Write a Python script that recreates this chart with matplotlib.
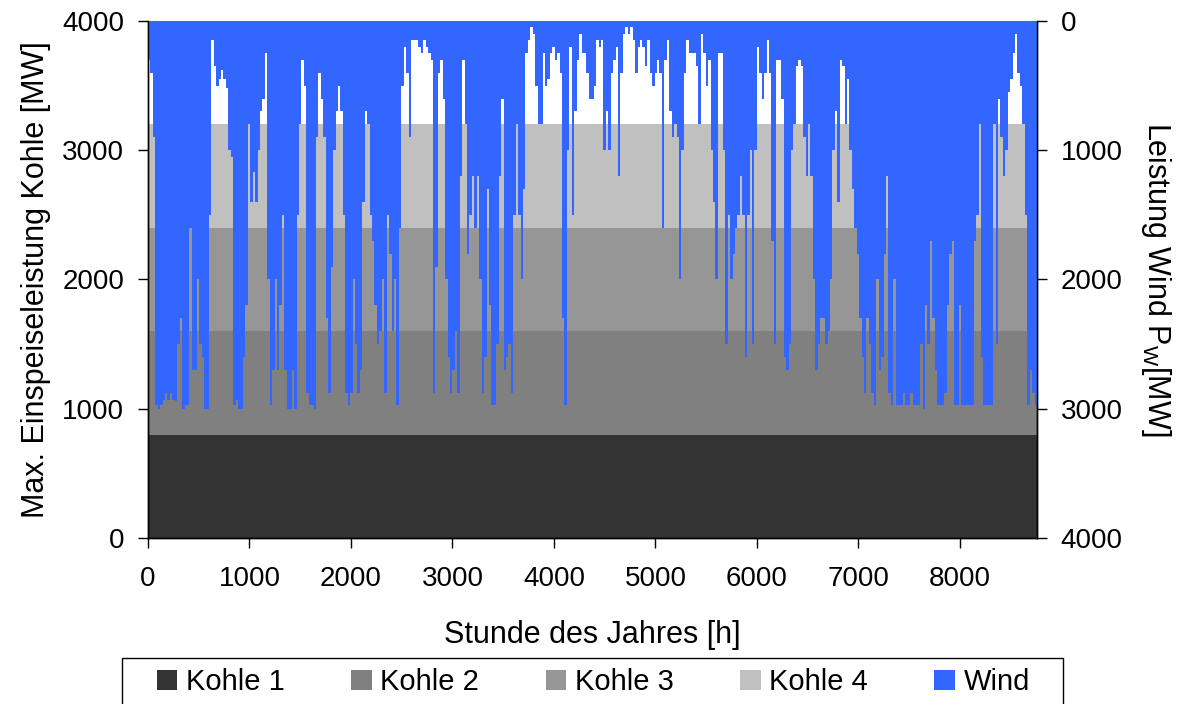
"""Kohle-Einspeisung und Windleistung ueber ein Jahr."""
import numpy as np
import matplotlib
matplotlib.use('Agg')
import matplotlib.pyplot as plt
from matplotlib.patches import Rectangle

plt.rcParams['font.family'] = ['Liberation Sans', 'DejaVu Sans']
plt.rcParams['mathtext.fontset'] = 'custom'
plt.rcParams['mathtext.rm'] = 'Liberation Sans'
plt.rcParams['mathtext.it'] = 'Liberation Sans'

# Kohle blocks, each 800 MW, stacked
kohle_labels = ['Kohle 1', 'Kohle 2', 'Kohle 3', 'Kohle 4']
kohle_mw = [800, 800, 800, 800]
kohle_colors = ['#333333', '#808080', '#969696', '#c0c0c0']
wind_color = '#3366ff'

# Wind power, one value per day (MW)
wind_mw = [
    # days 0-60
    300, 400, 900, 2970, 3000, 2970, 2930, 2880, 2930, 2880,
    2930, 2940, 2500, 2300, 3000, 2970, 2970, 1600, 2700, 2700,
    2000, 2500, 2600, 3000, 3000, 1500, 150, 350, 500, 450,
    380, 450, 520, 1000, 1050, 2970, 2930, 3000, 3000, 2600,
    2200, 800, 1400, 1170, 1400, 1000, 700, 600, 250, 2000,
    2970, 2700, 2000, 2700, 2200, 1500, 2700, 3000, 3000, 2700,
    3000,
    # days 61-123
    1500, 800, 300, 500, 2880, 2970, 2970, 3000, 900, 400,
    600, 900, 2300, 2880, 1900, 1000, 700, 500, 700, 1500,
    2880, 2970, 2880, 2000, 2500, 2880, 2700, 1400, 700, 800,
    1500, 1700, 2200, 2500, 2400, 2000, 2880, 1500, 1800, 2400,
    2000, 2970, 1600, 500, 200, 400, 900, 150, 150, 150,
    200, 250, 150, 200, 250, 300, 2880, 1900, 400, 300,
    600, 2000, 2600,
    # days 124-187
    2880, 2700, 2400, 2880, 1200, 300, 800, 1800, 1500, 1200,
    1600, 1200, 2000, 2880, 2600, 1300, 2200, 2970, 2970, 2500,
    1200, 600, 2700, 2600, 2500, 2880, 1500, 800, 1500, 2000,
    1300, 250, 150, 50, 100, 500, 800, 800, 250, 500,
    450, 250, 200, 300, 250, 400, 2300, 2970, 1000, 200,
    1500, 700, 300, 100, 250, 250, 400, 600, 600, 500,
    150, 200, 150, 1000,
    # days 188-251
    700, 1000, 400, 300, 200, 1200, 400, 100, 50, 100,
    50, 150, 400, 200, 150, 200, 350, 150, 400, 500,
    400, 300, 400, 1600, 300, 150, 700, 900, 800, 900,
    2000, 1000, 400, 150, 250, 250, 250, 350, 800, 100,
    250, 500, 300, 1000, 1400, 2000, 250, 250, 1000, 2500,
    1500, 2000, 1800, 1600, 1500, 1200, 1500, 2600, 1500, 1000,
    2500, 1000, 200, 400,
    # days 252-308
    600, 400, 150, 400, 1700, 2500, 300, 300, 600, 2600,
    2700, 2500, 1000, 800, 350, 300, 350, 900, 1200, 800,
    1200, 2000, 2700, 2500, 2300, 2300, 2500, 2400, 2000, 1000,
    700, 1400, 300, 350, 800, 450, 1000, 1300, 1600, 1800,
    2300, 2600, 2880, 2300, 2500, 2880, 2970, 2000, 2700, 2600,
    1800, 1200, 2880, 2970, 2000, 2970, 2970,
    # days 309-364
    2970, 2880, 2970, 2970, 2880, 2970, 2970, 2970, 2500, 3000,
    2200, 2500, 1700, 2300, 2700, 2970, 2970, 2970, 2880, 2200,
    1800, 1700, 2970, 2970, 2200, 2970, 2970, 2970, 2970, 2970,
    1700, 1500, 800, 2600, 2970, 2970, 2970, 2970, 800, 2500,
    600, 900, 1200, 1000, 550, 450, 250, 100, 400, 500,
    800, 1500, 2970, 2700, 2880, 2970,
]

hour_edges = np.arange(0, 8761, 24)
x_ticks = list(range(0, 9000, 1000))
y_ticks = list(range(0, 4001, 1000))

fig = plt.figure(figsize=(11.8, 7.04), dpi=100)
ax = fig.add_axes([0.1254, 0.2358, 0.7534, 0.7344])

# Kohle bands (left axis)
ax.stackplot([0, 8760], [[v, v] for v in kohle_mw],
             colors=kohle_colors, labels=kohle_labels, linewidth=0)
ax.set_xlim(0, 8760)
ax.set_ylim(0, 4000)
ax.set_xticks(x_ticks)
ax.set_yticks(y_ticks)
ax.set_xlabel('Stunde des Jahres [h]', fontsize=22, labelpad=20)
ax.set_ylabel('Max. Einspeiseleistung Kohle [MW]', fontsize=22, labelpad=8)
ax.tick_params(axis='x', labelsize=20, length=7, width=1, pad=13)
ax.tick_params(axis='y', labelsize=20, length=7, width=1, pad=10)

# Wind (right axis, inverted)
ax2 = ax.twinx()
ax2.stairs(wind_mw, hour_edges, baseline=0, fill=True, color=wind_color,
           label='Wind', linewidth=0)
ax2.set_ylim(4000, 0)
ax2.set_yticks(y_ticks)
ax2.set_ylabel('Leistung Wind P$_{\\mathrm{W}}$[MW]', fontsize=22,
               rotation=270, labelpad=36)
ax2.tick_params(labelsize=20, length=7, width=1, pad=10)

for a in (ax, ax2):
    for s in a.spines.values():
        s.set_linewidth(1)
    a.spines['top'].set_visible(False)

# Legend: entries spread across the row, box drawn separately
h1, l1 = ax.get_legend_handles_labels()
h2, l2 = ax2.get_legend_handles_labels()
leg = fig.legend(h1 + h2, l1 + l2, loc='center left', ncol=5, mode='expand',
                 bbox_to_anchor=(157 / 1180, 1 - 682 / 704, 873 / 1180, 0),
                 borderaxespad=0, borderpad=0, fontsize=21, frameon=False,
                 handlelength=0.7, handleheight=0.7, handletextpad=0.3)
fig.patches.append(Rectangle((122 / 1180, -0.01), 941 / 1180,
                             (704 - 658) / 704 + 0.01,
                             transform=fig.transFigure, fill=False,
                             edgecolor='black', linewidth=1))

fig.savefig('out.png', dpi=100)
